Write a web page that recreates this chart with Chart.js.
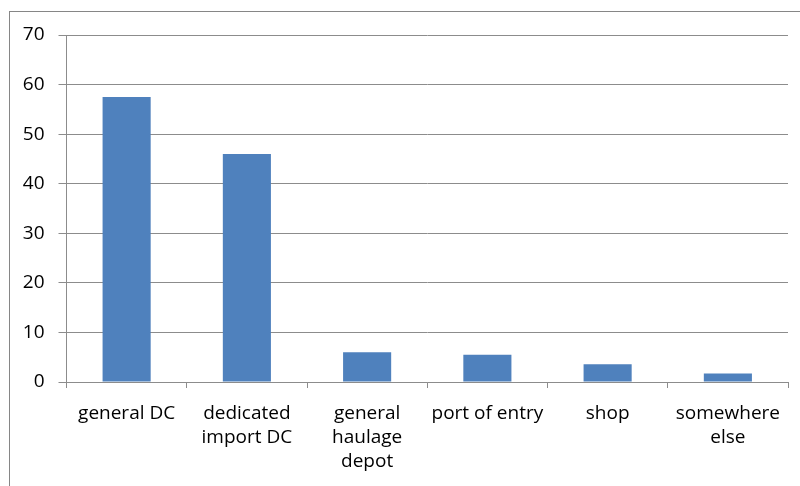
<!DOCTYPE html>
<html>
<head>
<meta charset="utf-8">
<script src="https://cdn.jsdelivr.net/npm/chart.js@4/dist/chart.umd.min.js"></script>
<style>
  html, body { margin: 0; padding: 0; background: #fff; }
  #wrap { position: relative; width: 800px; height: 486px; }
</style>
</head>
<body>
<div id="wrap"><canvas id="c" width="800" height="486"></canvas></div>
<script>
const categories = [
  'general DC',
  ['dedicated', 'import DC'],
  ['general', 'haulage', 'depot'],
  'port of entry',
  'shop',
  ['somewhere', 'else']
];
const values = [57.5, 46.0, 6.0, 5.5, 3.6, 1.7];
const yMin = 0, yMax = 70, yStep = 10;

const frame = {
  id: 'frame',
  beforeDraw(chart) {
    const ctx = chart.ctx;
    ctx.save();
    ctx.strokeStyle = '#868686';
    ctx.lineWidth = 1;
    ctx.strokeRect(9.5, 11.5, 820, 520);
    ctx.restore();
  }
};

new Chart(document.getElementById('c'), {
  type: 'bar',
  data: {
    labels: categories,
    datasets: [{
      data: values,
      backgroundColor: '#4f81bd',
      borderWidth: 0,
      categoryPercentage: 1,
      barPercentage: 0.4
    }]
  },
  options: {
    responsive: false,
    animation: false,
    devicePixelRatio: 1,
    layout: { padding: { left: 0, top: 35, right: 12, bottom: 0 } },
    plugins: { legend: { display: false }, tooltip: { enabled: false } },
    scales: {
      y: {
        min: yMin, max: yMax,
        ticks: { stepSize: yStep, color: '#000', padding: 14, font: { family: 'Open Sans', size: 19 } },
        grid: { color: '#8c8c8c', lineWidth: 1, tickLength: 8, drawTicks: true },
        border: { display: true, color: '#8c8c8c', width: 1 },
        afterFit(s) { s.width = 66.5; }
      },
      x: {
        offset: true,
        ticks: { color: '#000', padding: 13, font: { family: 'Open Sans', size: 19, lineHeight: 1.28 }, maxRotation: 0, autoSkip: false },
        grid: { display: true, drawOnChartArea: false, drawTicks: true, tickLength: 6, offset: true, color: '#8c8c8c' },
        border: { display: true, color: '#8c8c8c', width: 1 },
        afterFit(s) { s.height = 104; }
      }
    }
  },
  plugins: [frame]
});
</script>
</body>
</html>
